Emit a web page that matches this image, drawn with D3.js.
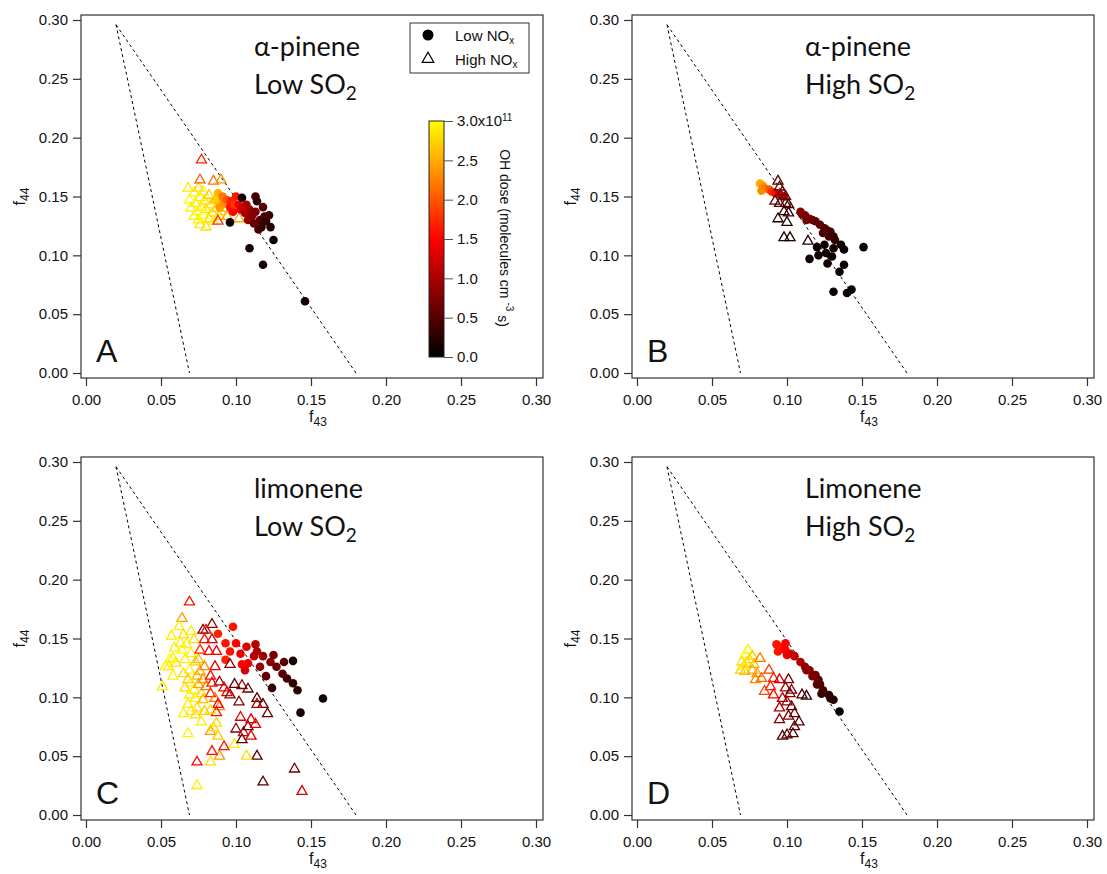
<!DOCTYPE html>
<html>
<head>
<meta charset="utf-8">
<script src="https://cdn.jsdelivr.net/npm/d3@7"></script>
<style>
  body { margin: 0; background: #fff; }
  svg text { font-family: "Liberation Sans", Arial, sans-serif; fill: #111; }
  svg text.title { font-family: Lato, "Open Sans", sans-serif; }
</style>
</head>
<body>
<div id="chart"></div>
<script>
(function () {

  // ---- data: [f43, f44, OH dose (x1e11)] ----
  const aLow = [[0.088,0.153,2.6],[0.090,0.149,2.5],[0.086,0.147,2.7],[0.092,0.144,2.3],[0.089,0.141,2.4],[0.091,0.150,2.2],
    [0.094,0.147,2.0],[0.096,0.146,1.9],[0.100,0.150,1.6],[0.097,0.146,1.7],[0.096,0.141,1.6],[0.098,0.137,1.5],[0.099,0.143,1.8],
    [0.102,0.143,1.4],[0.103,0.139,1.3],[0.105,0.140,1.2],[0.107,0.143,1.0],[0.109,0.139,0.9],[0.106,0.136,1.0],[0.110,0.131,0.8],
    [0.108,0.130,0.9],[0.113,0.137,0.7],[0.111,0.134,0.8],[0.104,0.149,0.15],[0.113,0.150,0.4],[0.114,0.146,0.3],[0.118,0.141,0.5],
    [0.119,0.133,0.4],[0.116,0.130,0.5],[0.112,0.127,0.6],[0.117,0.124,0.3],[0.123,0.124,0.2],[0.120,0.129,0.3],[0.122,0.134,0.35],
    [0.115,0.122,0.4],[0.096,0.128,0.1],[0.125,0.113,0.1],[0.109,0.106,0.1],[0.118,0.092,0.1],[0.146,0.061,0.1]]
  const aHigh = [[0.068,0.157,2.9],[0.072,0.153,2.9],[0.075,0.157,2.8],[0.078,0.154,2.9],[0.082,0.151,2.7],[0.069,0.147,3.0],
    [0.073,0.144,2.9],[0.076,0.149,2.9],[0.079,0.146,2.8],[0.083,0.143,2.9],[0.086,0.147,2.6],[0.070,0.140,2.9],[0.074,0.137,3.0],
    [0.077,0.141,2.9],[0.080,0.139,2.8],[0.084,0.136,2.9],[0.087,0.140,2.7],[0.090,0.137,2.8],[0.072,0.133,2.9],[0.075,0.130,2.9],
    [0.078,0.134,3.0],[0.082,0.131,2.8],[0.085,0.129,2.9],[0.076,0.126,2.9],[0.080,0.124,2.8],[0.089,0.133,2.7],[0.094,0.140,2.6],
    [0.092,0.144,2.7],[0.085,0.163,2.2],[0.090,0.164,2.4],[0.094,0.133,2.5],[0.102,0.131,2.5],[0.077,0.181,1.7],[0.076,0.164,2.0],
    [0.088,0.129,1.8]]

  const bLow = [[0.082,0.161,2.5],[0.084,0.159,2.4],[0.085,0.157,2.2],[0.088,0.156,2.0],[0.090,0.154,1.8],[0.092,0.153,1.6],
    [0.095,0.152,1.3],[0.098,0.150,1.1],[0.083,0.155,2.3],[0.109,0.137,0.8],[0.110,0.135,0.8],[0.112,0.134,0.75],[0.115,0.131,0.7],
    [0.117,0.130,0.65],[0.119,0.129,0.6],[0.122,0.126,0.55],[0.125,0.123,0.5],[0.127,0.121,0.45],[0.129,0.120,0.4],[0.131,0.116,0.35],
    [0.132,0.113,0.3],[0.113,0.130,0.65],[0.124,0.119,0.45],[0.128,0.116,0.4],[0.120,0.107,0.1],[0.125,0.109,0.1],[0.131,0.106,0.1],
    [0.136,0.109,0.05],[0.138,0.105,0.05],[0.151,0.107,0.05],[0.115,0.097,0.1],[0.121,0.100,0.1],[0.126,0.102,0.1],[0.130,0.099,0.05],
    [0.127,0.093,0.1],[0.138,0.092,0.05],[0.135,0.086,0.05],[0.131,0.069,0.05],[0.140,0.068,0.05],[0.143,0.071,0.05]]
  const bHigh = [[0.094,0.163,0.5],[0.095,0.158,0.6],[0.097,0.154,0.6],[0.099,0.150,0.6],[0.092,0.146,0.5],[0.095,0.144,0.4],
    [0.099,0.144,0.5],[0.101,0.143,0.4],[0.098,0.137,0.3],[0.101,0.136,0.3],[0.094,0.131,0.2],[0.100,0.128,0.2],[0.098,0.115,0.2],
    [0.102,0.115,0.2],[0.114,0.112,0.2]]

  const cLow = [[0.098,0.160,1.6],[0.088,0.154,1.7],[0.093,0.146,1.6],[0.096,0.139,1.6],[0.103,0.137,1.4],[0.100,0.146,1.5],
    [0.107,0.143,1.3],[0.108,0.129,1.4],[0.104,0.128,1.5],[0.093,0.132,1.7],[0.106,0.123,1.3],[0.113,0.145,1.1],[0.112,0.135,1.1],
    [0.114,0.139,1.0],[0.118,0.135,0.9],[0.116,0.126,0.9],[0.123,0.130,0.8],[0.125,0.136,0.7],[0.127,0.126,0.6],[0.120,0.118,0.6],
    [0.131,0.120,0.5],[0.132,0.130,0.5],[0.134,0.116,0.4],[0.138,0.112,0.3],[0.141,0.106,0.25],[0.124,0.108,0.3],[0.138,0.131,0.15],
    [0.158,0.099,0.1],[0.143,0.087,0.1]]
  const cHigh = [[0.057,0.152,2.9],[0.064,0.167,2.4],[0.062,0.160,2.9],[0.065,0.153,2.8],[0.070,0.156,2.9],[0.072,0.149,2.8],
    [0.067,0.145,2.9],[0.064,0.140,3.0],[0.058,0.133,2.9],[0.055,0.126,2.9],[0.060,0.129,2.8],[0.066,0.132,2.9],[0.070,0.137,2.9],
    [0.073,0.130,2.7],[0.069,0.123,2.9],[0.065,0.120,2.8],[0.058,0.118,2.9],[0.068,0.115,2.7],[0.074,0.118,2.6],[0.070,0.112,2.9],
    [0.066,0.108,2.8],[0.072,0.106,2.9],[0.075,0.111,2.5],[0.077,0.103,2.8],[0.069,0.102,2.9],[0.073,0.099,2.9],[0.078,0.098,2.6],
    [0.068,0.094,2.9],[0.074,0.091,2.8],[0.065,0.086,2.9],[0.070,0.088,2.9],[0.073,0.085,2.8],[0.079,0.088,2.7],[0.076,0.122,2.5],
    [0.078,0.115,2.4],[0.075,0.132,2.6],[0.063,0.146,2.9],[0.059,0.142,2.9],[0.056,0.132,3.0],[0.053,0.126,2.9],
    [0.069,0.181,1.6],[0.051,0.109,2.9],[0.074,0.025,2.9],[0.074,0.045,1.5],[0.083,0.045,2.8],[0.118,0.028,0.5],[0.139,0.039,0.6],
    [0.144,0.020,1.3],[0.114,0.050,0.5],[0.107,0.050,2.8],[0.099,0.060,2.9],[0.089,0.050,2.4],[0.084,0.054,1.6],[0.068,0.069,2.9],
    [0.077,0.079,2.9],[0.083,0.071,2.4],[0.087,0.078,2.8],[0.088,0.067,2.7],[0.092,0.058,1.6],[0.104,0.064,0.5],[0.105,0.070,1.2],
    [0.110,0.067,1.3],[0.108,0.075,0.6],[0.113,0.077,1.4],[0.110,0.081,1.3],[0.100,0.073,0.8],[0.103,0.083,1.3],[0.121,0.086,0.6],
    [0.114,0.099,0.5],[0.118,0.094,0.6],[0.114,0.094,1.0],[0.102,0.096,0.8],[0.096,0.102,0.8],[0.108,0.107,0.6],[0.104,0.110,0.8],
    [0.099,0.111,0.6],[0.094,0.104,1.3],[0.089,0.113,0.8],[0.092,0.108,1.4],[0.096,0.128,0.8],[0.084,0.162,0.8],[0.078,0.157,0.7],
    [0.080,0.157,1.4],[0.084,0.149,1.3],[0.079,0.149,1.6],[0.087,0.139,1.4],[0.082,0.139,1.5],[0.076,0.140,1.7],[0.086,0.126,1.4],
    [0.079,0.126,2.3],[0.083,0.118,1.6],[0.084,0.112,1.5],[0.080,0.109,2.2],[0.083,0.103,1.7],[0.086,0.099,2.2],[0.089,0.092,2.3],
    [0.087,0.087,1.6],[0.088,0.094,1.5],[0.083,0.089,2.8],[0.085,0.074,2.8]]

  const dLow = [[0.093,0.145,1.6],[0.095,0.143,1.6],[0.099,0.146,1.5],[0.094,0.139,1.6],[0.099,0.140,1.5],[0.100,0.136,1.4],
    [0.102,0.137,1.3],[0.105,0.135,1.2],[0.109,0.130,1.0],[0.112,0.126,0.9],[0.113,0.123,0.85],[0.115,0.123,0.8],[0.117,0.118,0.75],
    [0.119,0.119,0.7],[0.120,0.111,0.55],[0.121,0.115,0.6],[0.122,0.111,0.5],[0.123,0.103,0.35],[0.124,0.106,0.4],[0.128,0.102,0.3],
    [0.129,0.099,0.25],[0.131,0.098,0.2],[0.135,0.088,0.05]]
  const dHigh = [[0.074,0.140,2.9],[0.072,0.136,3.0],[0.077,0.135,2.7],[0.070,0.130,2.8],[0.073,0.129,2.8],[0.078,0.128,2.6],
    [0.069,0.123,2.7],[0.072,0.122,2.6],[0.077,0.123,2.5],[0.080,0.120,2.4],[0.082,0.133,2.2],[0.071,0.126,2.9],[0.075,0.132,2.8],
    [0.088,0.123,1.8],[0.083,0.116,2.1],[0.079,0.115,2.3],[0.091,0.116,1.7],[0.095,0.115,1.2],[0.089,0.109,1.7],[0.085,0.105,1.9],
    [0.091,0.102,1.5],[0.101,0.115,0.8],[0.099,0.108,0.9],[0.103,0.106,0.7],[0.110,0.102,0.4],[0.113,0.101,0.3],[0.097,0.099,1.0],
    [0.100,0.096,0.9],[0.095,0.091,1.0],[0.103,0.092,0.6],[0.105,0.086,0.6],[0.101,0.084,0.7],[0.108,0.079,0.5],[0.095,0.081,0.8],
    [0.105,0.075,0.5],[0.104,0.069,0.5],[0.100,0.068,0.6],[0.097,0.067,0.4],[0.102,0.103,0.8]]

  const axisTicks = [0, 0.05, 0.10, 0.15, 0.20, 0.25, 0.30]
  const doseTicks = [0, 0.5, 1.0, 1.5, 2.0, 2.5, 3.0]
  const triLeft = [[0.02, 0.296], [0.069, 0]]
  const triRight = [[0.02, 0.296], [0.180, 0]]

  const panels = [
    { letter: "A", x: 81, y: 15, name: "α-pinene", so2: "Low", low: aLow, high: aHigh, circlesOnTop: true },
    { letter: "B", x: 632, y: 15, name: "α-pinene", so2: "High", low: bLow, high: bHigh, circlesOnTop: false },
    { letter: "C", x: 81, y: 457, name: "limonene", so2: "Low", low: cLow, high: cHigh, circlesOnTop: false },
    { letter: "D", x: 632, y: 457, name: "Limonene", so2: "High", low: dLow, high: dHigh, circlesOnTop: false }
  ]

  const W = 462, H = 363
  const xScale = d3.scaleLinear().domain([0, 0.3]).range([5, 455])
  const yScale = d3.scaleLinear().domain([0, 0.3]).range([358, 5])
  const colorScale = d3.scaleLinear().domain([0, 1.5, 3]).range(["#000000", "#ff0000", "#ffff00"])
  const triangle = d3.symbol().type(d3.symbolTriangle).size(44)

  const svg = d3.select("#chart").append("svg")
    .attr("width", 1107)
    .attr("height", 874)

  panels.forEach(p => {
    const g = svg.append("g").attr("transform", `translate(${p.x},${p.y})`)

    // axes
    const xAxis = g.append("g").attr("transform", `translate(0,${H})`)
      .call(d3.axisBottom(xScale).tickValues(axisTicks).tickSize(8).tickPadding(8).tickFormat(d3.format(".2f")))
    const yAxis = g.append("g")
      .call(d3.axisLeft(yScale).tickValues(axisTicks).tickSize(8).tickPadding(5).tickFormat(d3.format(".2f")))
    ;[xAxis, yAxis].forEach(a => {
      a.select(".domain").remove()
      a.selectAll("line").attr("stroke", "#333").attr("stroke-width", 1.2)
      a.selectAll("text").attr("font-size", 15).attr("font-family", null).attr("fill", "#111")
    })

    g.append("rect").attr("width", W).attr("height", H)
      .attr("fill", "none").attr("stroke", "#333").attr("stroke-width", 1.2)

    // axis titles
    const xt = g.append("text").attr("x", 237).attr("y", H + 44).attr("text-anchor", "middle").attr("font-size", 16)
    xt.append("tspan").text("f")
    xt.append("tspan").attr("dy", "0.3em").attr("font-size", 12).text("43")
    const yt = g.append("text").attr("transform", `translate(-56,${H / 2}) rotate(-90)`)
      .attr("text-anchor", "middle").attr("font-size", 16)
    yt.append("tspan").text("f")
    yt.append("tspan").attr("dy", "0.3em").attr("font-size", 12).text("44")

    // dashed triangle lines
    const line = d3.line().x(d => xScale(d[0])).y(d => yScale(d[1]))
    ;[triLeft, triRight].forEach(l => {
      g.append("path").attr("d", line(l))
        .attr("fill", "none").attr("stroke", "#000").attr("stroke-width", 1).attr("stroke-dasharray", "3,3")
    })

    // points
    const drawCircles = () => g.append("g").selectAll("circle")
      .data(p.low).join("circle")
      .attr("cx", d => xScale(d[0]))
      .attr("cy", d => yScale(d[1]))
      .attr("r", 4.3)
      .attr("fill", d => colorScale(d[2]))
    const drawTriangles = () => g.append("g").selectAll("path")
      .data(p.high).join("path")
      .attr("d", triangle)
      .attr("transform", d => `translate(${xScale(d[0])},${yScale(d[1])})`)
      .attr("fill", "none")
      .attr("stroke", d => colorScale(d[2]))
      .attr("stroke-width", 1.3)
    if (p.circlesOnTop) { drawTriangles(); drawCircles() } else { drawCircles(); drawTriangles() }

    // panel title
    g.append("text").attr("class", "title").attr("x", 173).attr("y", 41).attr("font-size", 27).text(p.name)
    const so = g.append("text").attr("class", "title").attr("x", 173).attr("y", 79).attr("font-size", 27)
    so.append("tspan").text(p.so2 + " SO")
    so.append("tspan").attr("dy", "0.3em").attr("font-size", 19).text("2")

    g.append("text").attr("x", 15).attr("y", H - 16).attr("font-size", 32).text(p.letter)
  })

  // legend (panel A)
  const leg = svg.append("g")
  leg.append("rect").attr("x", 410).attr("y", 23).attr("width", 119).attr("height", 50)
    .attr("fill", "#fff").attr("stroke", "#333").attr("stroke-width", 1)
  leg.append("circle").attr("cx", 428).attr("cy", 35).attr("r", 5.5).attr("fill", "#000")
  leg.append("path").attr("d", d3.symbol().type(d3.symbolTriangle).size(60))
    .attr("transform", "translate(428,59)").attr("fill", "none").attr("stroke", "#000").attr("stroke-width", 1.2)
  ;[["Low NO", 41], ["High NO", 65]].forEach(([t, yy]) => {
    const tx = leg.append("text").attr("x", 455).attr("y", yy).attr("font-size", 15)
    tx.append("tspan").text(t)
    tx.append("tspan").attr("dy", "0.3em").attr("font-size", 10).text("x")
  })

  // colour bar
  const cb = { x: 429, y: 121, w: 15, h: 236 }
  const cbScale = d3.scaleLinear().domain([0, 3]).range([cb.y + cb.h, cb.y])
  const grad = svg.append("defs").append("linearGradient").attr("id", "doseGrad")
    .attr("x1", 0).attr("y1", 1).attr("x2", 0).attr("y2", 0)
  grad.selectAll("stop").data([0, 0.75, 1.5, 2.25, 3]).join("stop")
    .attr("offset", d => d / 3).attr("stop-color", d => colorScale(d))
  svg.append("rect").attr("x", cb.x).attr("y", cb.y).attr("width", cb.w).attr("height", cb.h)
    .attr("fill", "url(#doseGrad)").attr("stroke", "#222").attr("stroke-width", 1)
  const cbAxis = svg.append("g").attr("transform", `translate(${cb.x + cb.w},0)`)
    .call(d3.axisRight(cbScale).tickValues(doseTicks).tickSize(9).tickPadding(4).tickFormat(d3.format(".1f")))
  cbAxis.select(".domain").remove()
  cbAxis.selectAll("line").attr("stroke", "#555")
  cbAxis.selectAll("text").attr("font-size", 15).attr("font-family", null).attr("fill", "#111")
  cbAxis.selectAll("text").filter(d => d === 3).text("3.0x10")
    .append("tspan").attr("dy", "-0.55em").attr("font-size", 10).text("11")

  const cbt = svg.append("text").attr("transform", "translate(500,238) rotate(90)")
    .attr("text-anchor", "middle").attr("font-size", 14)
  cbt.append("tspan").text("OH dose (molecules cm ")
  cbt.append("tspan").attr("dy", "-0.55em").attr("font-size", 10).text("-3")
  cbt.append("tspan").attr("dy", "0.55em").text(" s)")

})();
</script>
</body>
</html>
